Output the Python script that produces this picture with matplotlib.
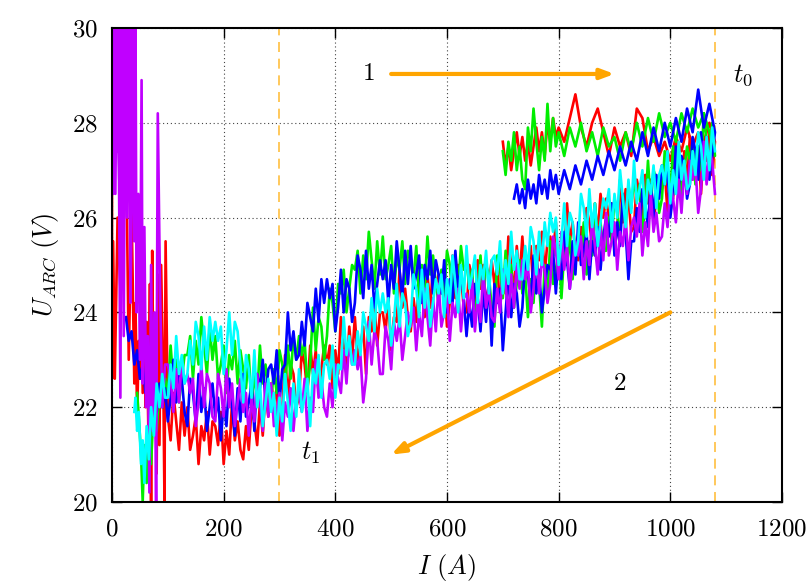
import numpy as np
import matplotlib.pyplot as plt

plt.rcParams['font.family'] = 'serif'
plt.rcParams['font.serif'] = ['cmr10']
plt.rcParams['mathtext.fontset'] = 'cm'
plt.rcParams['axes.formatter.use_mathtext'] = True

# current sweep while the arc current ramps down (A), shared by all runs
I_down = [1080, 1075, 1070, 1065, 1060, 1055, 1050, 1045, 1040, 1035,
          1030, 1025, 1020, 1015, 1010, 1005, 1000, 995, 990, 985,
          980, 975, 970, 965, 960, 955, 950, 945, 940, 935,
          930, 925, 920, 915, 910, 905, 900, 895, 890, 885,
          880, 875, 870, 865, 860, 855, 850, 845, 840, 835,
          830, 825, 820, 815, 810, 805, 800, 795, 790, 785,
          780, 775, 770, 765, 760, 755, 750, 745, 740, 735,
          730, 725, 720, 715, 710, 705, 700, 695, 690, 685,
          680, 675, 670, 665, 660, 655, 650, 645, 640, 635,
          630, 625, 620, 615, 610, 605, 600, 595, 590, 585,
          580, 575, 570, 565, 560, 555, 550, 545, 540, 535,
          530, 525, 520, 515, 510, 505, 500, 495, 490, 485,
          480, 475, 470, 465, 460, 455, 450, 445, 440, 435,
          430, 425, 420, 415, 410, 405, 400, 395, 390, 385,
          380, 375, 370, 365, 360, 355, 350, 345, 340, 335,
          330, 325, 320, 315, 310, 305, 300, 295, 290, 285,
          280, 275, 270, 265, 260, 255, 250, 245, 240, 235,
          230, 225, 220, 215, 210, 205, 200, 195, 190, 185,
          180, 175, 170, 165, 160, 155, 150, 145, 140, 135,
          130, 125, 120, 115, 110, 105, 100]

# current sweep while ramping up (A)
I_up = [700, 705, 710, 715, 720, 725, 730, 735, 740, 745,
        750, 755, 760, 765, 770, 775, 780, 785, 790, 795,
        800, 810, 820, 830, 840, 850, 860, 870, 880, 890,
        900, 910, 920, 930, 940, 950, 960, 970, 980, 990,
        1000, 1010, 1020, 1030, 1040, 1050, 1060, 1070]

# ---- red run ----
red_up = [27.6, 27.1, 27.5, 27.0, 27.4, 27.8, 27.3, 27.7, 27.2, 27.6,
          27.1, 27.5, 27.9, 27.4, 27.8, 27.3, 28.0, 27.6, 28.1, 27.7,
          27.9, 27.6, 28.1, 28.6, 27.9, 27.5, 28.0, 28.3, 27.8, 27.3,
          27.9, 27.5, 27.8, 27.3, 28.3, 28.1, 27.4, 27.7, 27.3, 27.6,
          27.2, 27.7, 27.4, 27.9, 27.5, 27.8, 27.6, 28.0]
red_down = [27.6, 26.9, 27.8, 27.2, 27.5, 26.5, 27.5, 27.1, 26.8, 27.7,
            26.7, 27.4, 26.4, 27.0, 27.6, 26.4, 26.9, 26.1, 27.0, 26.6,
            26.9, 26.4, 25.9, 26.8, 26.3, 26.9, 25.9, 26.5, 26.8, 25.8,
            25.7, 26.4, 26.6, 25.9, 26.8, 25.8, 25.3, 26.3, 26.0, 26.4,
            26.0, 26.5, 25.6, 26.3, 25.4, 25.9, 26.2, 25.3, 25.8, 25.1,
            25.3, 25.9, 25.5, 26.3, 25.2, 25.5, 24.8, 25.9, 25.2, 25.6,
            25.5, 24.8, 25.7, 25.1, 25.4, 24.4, 25.4, 25.0, 24.7, 25.6,
            24.7, 25.4, 24.4, 25.0, 25.6, 24.4, 24.9, 24.1, 25.0, 24.6,
            25.1, 24.6, 24.1, 25.0, 24.5, 25.1, 24.1, 24.7, 25.0, 24.0,
            24.1, 24.8, 25.0, 24.3, 25.2, 24.2, 23.7, 24.7, 24.4, 24.8,
            24.5, 25.0, 24.1, 24.8, 23.9, 24.4, 24.7, 23.8, 24.3, 23.6,
            23.9, 24.5, 24.1, 24.9, 23.8, 23.9, 23.2, 24.3, 23.6, 24.0,
            24.0, 23.3, 24.2, 23.6, 23.9, 22.7, 23.7, 23.3, 23.0, 23.9,
            23.0, 23.7, 22.7, 23.3, 23.9, 22.7, 23.2, 22.4, 23.3, 22.9,
            23.3, 22.8, 22.3, 23.2, 22.7, 23.3, 22.3, 22.9, 23.2, 22.2,
            22.0, 22.7, 22.9, 22.2, 23.1, 21.9, 21.4, 22.4, 22.1, 22.5,
            21.8, 22.3, 21.4, 22.1, 21.2, 21.7, 22.0, 21.1, 21.6, 20.9,
            21.1, 21.7, 21.3, 22.1, 21.0, 21.5, 20.8, 21.9, 21.2, 21.6,
            21.7, 21.0, 21.9, 21.3, 21.6, 20.8, 21.8, 21.4, 21.1, 22.0,
            21.4, 22.1, 21.1, 21.7, 22.3, 21.3, 21.8]
red_tail_I = [96, 94, 92, 88, 85, 82, 80, 78, 75, 72, 70, 68, 65, 62, 60, 58, 55,
              52, 50, 48, 45, 42, 40, 35, 30, 25, 20, 15, 10, 5, 2, 0, 0]
red_tail_U = [25.5, 20.0, 22.4, 25.0, 21.2, 24.8, 20.6, 23.5, 21.5, 25.3, 20.0,
              24.6, 21.6, 23.8, 22.0, 24.0, 22.3, 25.0, 22.6, 23.4, 21.8, 24.2,
              22.5, 26.2, 23.0, 27.8, 28.9, 24.5, 26.0, 22.6, 25.5, 22.6, 26.9]

# ---- green run ----
green_up = [27.4, 26.9, 27.6, 27.2, 27.8, 27.0, 27.5, 26.8, 26.6, 27.9,
            27.4, 28.3, 27.6, 27.0, 27.7, 27.2, 28.4, 27.4, 28.1, 27.5,
            27.8, 27.3, 27.9, 27.5, 28.0, 27.4, 27.8, 27.3, 27.9, 27.5,
            27.7, 27.2, 27.8, 27.4, 28.0, 27.5, 28.1, 27.6, 28.2, 27.7,
            28.0, 27.6, 28.2, 27.8, 28.3, 27.9, 28.2, 27.8]
green_down = [27.3, 28.0, 27.0, 27.6, 28.2, 27.0, 27.5, 26.7, 27.6, 27.2,
              27.5, 27.0, 26.5, 27.4, 26.9, 27.5, 26.5, 27.1, 27.4, 26.4,
              26.1, 26.8, 27.0, 26.3, 27.2, 26.2, 25.7, 26.7, 26.4, 26.8,
              26.2, 26.7, 25.8, 26.5, 25.6, 26.1, 26.4, 25.5, 26.0, 25.3,
              25.3, 25.9, 25.5, 26.3, 25.2, 25.5, 24.8, 25.9, 25.2, 25.6,
              25.4, 24.7, 25.6, 25.0, 25.3, 24.3, 25.3, 24.9, 24.6, 25.5,
              24.3, 25.0, 23.7, 24.6, 25.2, 24.2, 24.7, 23.9, 24.8, 24.4,
              25.1, 24.6, 24.1, 25.0, 24.5, 25.3, 24.3, 24.9, 25.2, 23.7,
              24.1, 24.8, 25.0, 24.3, 25.2, 24.4, 23.9, 24.9, 24.6, 25.0,
              24.9, 25.4, 24.5, 25.2, 24.3, 25.0, 25.3, 24.4, 24.9, 24.2,
              24.6, 25.2, 24.8, 25.6, 24.5, 25.0, 24.3, 25.4, 24.7, 25.1,
              25.3, 24.6, 25.5, 24.9, 25.2, 24.4, 25.4, 25.0, 24.7, 25.6,
              24.8, 25.5, 24.5, 25.1, 25.7, 24.7, 25.2, 24.4, 25.3, 24.9,
              25.0, 24.5, 24.0, 24.9, 24.4, 24.6, 23.6, 24.2, 24.5, 23.5,
              23.0, 23.7, 23.9, 23.2, 24.1, 22.9, 22.4, 23.4, 23.1, 23.5,
              23.0, 23.5, 22.6, 23.3, 22.4, 22.9, 23.2, 22.3, 22.8, 22.1,
              22.3, 22.9, 22.5, 23.3, 22.2, 22.7, 22.0, 23.1, 22.4, 22.8,
              23.2, 22.5, 23.4, 22.8, 23.1, 22.3, 23.3, 22.9, 22.6, 23.5,
              23.0, 23.7, 22.7, 23.3, 23.9, 22.9, 23.4, 22.6, 23.5, 23.1,
              23.1, 22.6, 22.1, 23.0, 22.5, 23.3, 22.3]
green_tail_I = [95, 90, 85, 80, 75, 70, 66, 62, 58, 55, 52, 48, 45]
green_tail_U = [22.6, 22.0, 22.4, 21.5, 22.1, 20.8, 21.6, 20.4, 21.2, 20.0, 21.0, 21.8, 22.3]

# ---- blue run (ramp-up starts at 720 A) ----
blue_up = [26.4, 26.7, 26.3, 26.6, 26.2, 26.8, 26.4, 26.7, 26.3, 26.9,
           26.5, 26.8, 26.4, 27.0, 26.6, 26.9,
           26.5, 27.0, 26.6, 27.1, 26.7, 27.2, 26.8, 27.3, 26.9, 27.4,
           27.0, 27.5, 27.1, 27.6, 27.2, 27.8, 27.3, 27.9, 27.4, 28.0,
           27.5, 28.1, 27.6, 28.3, 27.8, 28.7, 27.9, 28.4]
blue_down = [27.8, 27.3, 26.8, 27.7, 27.2, 27.8, 26.8, 27.4, 27.7, 26.7,
             26.4, 27.1, 27.3, 26.6, 27.5, 26.5, 26.0, 27.0, 26.7, 27.1,
             26.4, 26.9, 26.0, 26.7, 25.8, 26.3, 26.6, 25.7, 26.2, 25.5,
             25.5, 24.7, 25.7, 26.5, 25.4, 25.9, 25.2, 26.3, 25.6, 26.0,
             25.6, 24.9, 25.8, 25.2, 25.5, 24.7, 25.7, 25.3, 25.0, 25.9,
             24.8, 25.5, 24.5, 25.1, 25.7, 24.7, 25.2, 24.4, 25.3, 24.9,
             25.0, 24.5, 24.0, 24.9, 24.4, 25.2, 24.2, 24.8, 25.1, 24.1,
             23.7, 24.4, 24.6, 23.9, 24.8, 24.0, 23.2, 24.5, 24.2, 24.6,
             23.3, 24.7, 23.8, 24.5, 23.6, 24.3, 24.6, 23.7, 24.2, 23.5,
             24.3, 24.9, 24.5, 25.3, 24.2, 24.7, 24.0, 25.1, 24.4, 24.8,
             25.1, 24.4, 25.3, 24.7, 25.0, 24.2, 25.2, 24.8, 24.5, 25.4,
             24.6, 25.3, 24.3, 24.9, 25.5, 24.5, 25.0, 24.2, 25.1, 24.7,
             25.1, 24.6, 24.1, 25.0, 24.5, 25.3, 24.3, 24.9, 25.2, 24.2,
             23.8, 24.5, 24.7, 24.0, 24.9, 24.1, 23.6, 24.6, 24.3, 24.7,
             24.2, 24.7, 23.8, 24.5, 23.6, 23.9, 24.2, 23.3, 23.8, 23.1,
             23.0, 23.6, 23.2, 24.0, 22.9, 22.8, 22.1, 23.2, 22.5, 22.9,
             22.8, 22.1, 23.0, 22.4, 22.7, 21.5, 22.5, 22.1, 21.8, 22.7,
             21.7, 22.4, 21.4, 22.0, 22.6, 21.6, 22.1, 21.3, 22.2, 21.8,
             22.5, 22.0, 21.5, 22.4, 21.9, 22.7, 21.7, 22.3, 22.6, 21.6,
             21.9, 22.6, 22.8, 22.1, 23.0, 22.2, 21.7]
blue_tail_I = [95, 90, 85, 80, 75, 70, 65, 60, 55, 50, 45, 40, 35, 30, 25]
blue_tail_U = [22.4, 22.0, 22.5, 21.9, 22.4, 22.1, 22.6, 22.3, 22.9, 22.6, 23.2, 22.9, 23.6, 23.4, 23.9]

# ---- magenta run ----
mag_down = [26.5, 27.2, 27.4, 26.7, 27.6, 26.6, 26.1, 27.1, 26.8, 27.2,
            26.5, 27.0, 26.1, 26.8, 25.9, 26.4, 26.7, 25.8, 26.3, 25.6,
            25.5, 26.1, 25.7, 26.5, 25.4, 25.9, 25.2, 26.3, 25.6, 26.0,
            25.8, 25.1, 26.0, 25.4, 25.7, 24.9, 25.9, 25.5, 25.2, 26.1,
            25.1, 25.8, 24.8, 25.4, 26.0, 25.0, 25.5, 24.7, 25.6, 25.2,
            25.5, 25.0, 24.5, 25.4, 24.9, 25.7, 24.7, 25.3, 25.6, 24.6,
            24.2, 24.9, 25.1, 24.4, 25.3, 24.5, 24.0, 25.0, 24.7, 25.1,
            24.5, 25.0, 24.1, 24.8, 23.9, 24.6, 24.9, 24.0, 24.5, 23.8,
            23.9, 24.5, 24.1, 24.9, 23.8, 24.3, 23.6, 24.7, 24.0, 24.4,
            24.3, 23.6, 24.5, 23.9, 24.2, 23.4, 24.4, 24.0, 23.7, 24.6,
            23.6, 24.3, 23.3, 23.9, 24.5, 23.5, 24.0, 23.2, 24.1, 23.7,
            24.0, 23.5, 23.0, 23.9, 23.4, 23.8, 22.8, 23.4, 23.7, 22.7,
            22.7, 23.4, 23.6, 22.9, 23.8, 22.6, 22.1, 23.1, 22.8, 23.2,
            22.9, 23.4, 22.5, 23.2, 22.3, 22.6, 22.9, 22.0, 22.5, 21.8,
            22.0, 22.6, 22.2, 23.0, 21.9, 22.2, 21.5, 22.6, 21.9, 22.3,
            22.2, 21.5, 22.4, 21.8, 22.1, 21.3, 22.3, 21.9, 21.6, 22.5,
            21.8, 22.5, 21.5, 22.1, 22.7, 21.7, 22.2, 21.4, 22.3, 21.9,
            22.6, 22.1, 21.6, 22.5, 22.0, 22.8, 21.8, 22.4, 22.7, 21.7,
            21.8, 22.5, 22.7, 22.0, 22.9, 22.1, 21.6, 22.6, 22.3, 22.7,
            22.5, 23.0, 22.1, 22.8, 21.9, 22.6, 22.9]
mag_tail_I = [95, 90, 86, 82, 79, 76, 73, 70, 67, 64, 61, 58, 55, 53, 50, 47, 44,
              42, 40, 38, 36, 33, 30, 27, 24, 21, 18, 15, 12, 9, 6, 3, 0,
              2, 4, 7, 10, 13, 16, 19, 22, 26, 29, 32,
              34, 31, 28, 25, 23, 20, 17, 14, 11, 8, 5, 1]
mag_tail_U = [22.9, 22.0, 24.5, 28.2, 20.0, 24.0, 21.5, 25.0, 20.2, 23.5, 22.0,
              25.8, 22.5, 28.9, 23.0, 26.5, 24.0, 30.5, 25.5, 30.5, 27.0, 24.2,
              30.5, 26.0, 30.5, 23.5, 30.5, 22.2, 28.0, 30.5, 26.5, 30.5, 29.0,
              26.5, 30.5, 27.5, 30.5, 26.8, 30.5, 28.0, 30.5, 27.2, 29.5, 26.5,
              30.5, 27.8, 30.5, 26.2, 29.8, 27.0, 30.5, 25.6, 30.5, 27.4, 30.5, 28.2]

# ---- cyan run ----
cyan_down = [27.4, 27.9, 27.0, 27.7, 26.8, 27.5, 27.8, 26.9, 27.4, 26.7,
             26.6, 27.2, 26.8, 27.6, 26.5, 27.0, 26.3, 27.4, 26.7, 27.1,
             26.9, 26.2, 27.1, 26.5, 26.8, 26.0, 27.0, 26.6, 26.3, 27.2,
             26.1, 26.8, 25.8, 26.4, 27.0, 26.0, 26.5, 25.7, 26.6, 26.2,
             26.4, 25.9, 25.4, 26.3, 25.8, 26.6, 25.6, 26.2, 26.5, 25.5,
             25.2, 25.9, 26.1, 25.4, 26.3, 25.5, 25.0, 26.0, 25.7, 26.1,
             25.4, 25.9, 25.0, 25.7, 24.8, 25.5, 25.8, 24.9, 25.4, 24.7,
             24.7, 25.3, 24.9, 25.7, 24.6, 25.1, 24.4, 25.5, 24.8, 25.2,
             25.1, 24.4, 25.3, 24.7, 25.0, 24.2, 25.2, 24.8, 24.5, 25.4,
             24.3, 25.0, 24.0, 24.6, 25.2, 24.2, 24.7, 23.9, 24.8, 24.4,
             24.7, 24.2, 23.7, 24.6, 24.1, 24.9, 23.9, 24.5, 24.8, 23.8,
             23.5, 24.2, 24.4, 23.7, 24.6, 23.8, 23.3, 24.3, 24.0, 24.4,
             24.0, 24.5, 23.6, 24.3, 23.4, 23.7, 24.0, 23.1, 23.6, 22.9,
             22.9, 23.5, 23.1, 23.9, 22.8, 22.9, 22.2, 23.3, 22.6, 23.0,
             22.9, 22.2, 23.1, 22.5, 22.8, 21.6, 22.6, 22.2, 21.9, 22.8,
             21.8, 22.5, 21.5, 22.1, 22.7, 21.7, 22.2, 21.4, 22.3, 21.9,
             22.6, 22.1, 21.6, 22.5, 22.0, 23.2, 22.2, 22.8, 23.1, 22.1,
             22.9, 23.6, 23.8, 23.1, 24.0, 23.2, 22.7, 23.7, 23.4, 23.8,
             23.4, 23.9, 23.0, 23.7, 22.8, 23.5, 23.8, 22.9, 23.4, 22.7,
             22.5, 23.1, 22.7, 23.5, 22.4, 22.9, 22.2]
cyan_tail_I = [95, 90, 85, 80, 75, 70, 66, 62, 58, 55, 52, 48, 45, 42, 40]
cyan_tail_U = [22.2, 22.7, 22.0, 22.5, 21.4, 22.0, 20.9, 21.6, 20.4, 21.3, 20.8, 21.9, 21.5, 22.2, 21.9]

runs = [
    (I_up + I_down + red_tail_I, red_up + red_down + red_tail_U, '#ff0000'),
    (I_up + I_down + green_tail_I, green_up + green_down + green_tail_U, '#00ee00'),
    (I_up[4:] + I_down + blue_tail_I, blue_up + blue_down + blue_tail_U, '#0000ff'),
    (I_down + mag_tail_I, mag_down + mag_tail_U, '#c000ff'),
    (I_down + cyan_tail_I, cyan_down + cyan_tail_U, '#00ffff'),
]

fig = plt.figure(figsize=(8.11, 5.88), dpi=100)
ax = fig.add_axes([0.1381, 0.1463, 0.8261, 0.8061])

for I, U, c in runs:
    ax.plot(I, U, color=c, lw=1.9)

for xv in [300, 1080]:
    ax.axvline(xv, color='#ffbf40', lw=1.2, linestyle=(0, (6, 4)), zorder=1.6)

ax.set_xlim(0, 1200)
ax.set_ylim(20, 30)
ax.set_xticks(np.arange(0, 1201, 200))
ax.set_yticks(np.arange(20, 31, 2))
ax.tick_params(direction='in', top=True, right=True, length=7, width=1, labelsize=18)
ax.tick_params(axis='x', pad=12)
ax.tick_params(axis='y', pad=10)
ax.grid(True, color='#444444', linestyle=(0, (1, 2.5)), lw=0.8)
for s in ax.spines.values():
    s.set_linewidth(1.5)

ax.set_xlabel(r'$I\ (A)$', fontsize=19, labelpad=8)
ax.set_ylabel(r'$U_{ARC}\ (V)$', fontsize=19, labelpad=8)

arrow_kw = dict(arrowstyle='-|>,head_length=0.8,head_width=0.3', color='#ffa500',
                lw=3, shrinkA=0, shrinkB=0)
ax.annotate('', xy=(900, 29.03), xytext=(500, 29.03), arrowprops=arrow_kw)
ax.annotate('', xy=(500, 21.0), xytext=(1000, 24.0), arrowprops=arrow_kw)

ax.text(460, 29.03, '1', ha='center', va='center', fontsize=18)
ax.text(910, 22.5, '2', ha='center', va='center', fontsize=18)
ax.text(1130, 29.0, r'$t_0$', ha='center', va='center', fontsize=19)
ax.text(355, 21.03, r'$t_1$', ha='center', va='center', fontsize=19)

fig.savefig('out.png', dpi=100)
